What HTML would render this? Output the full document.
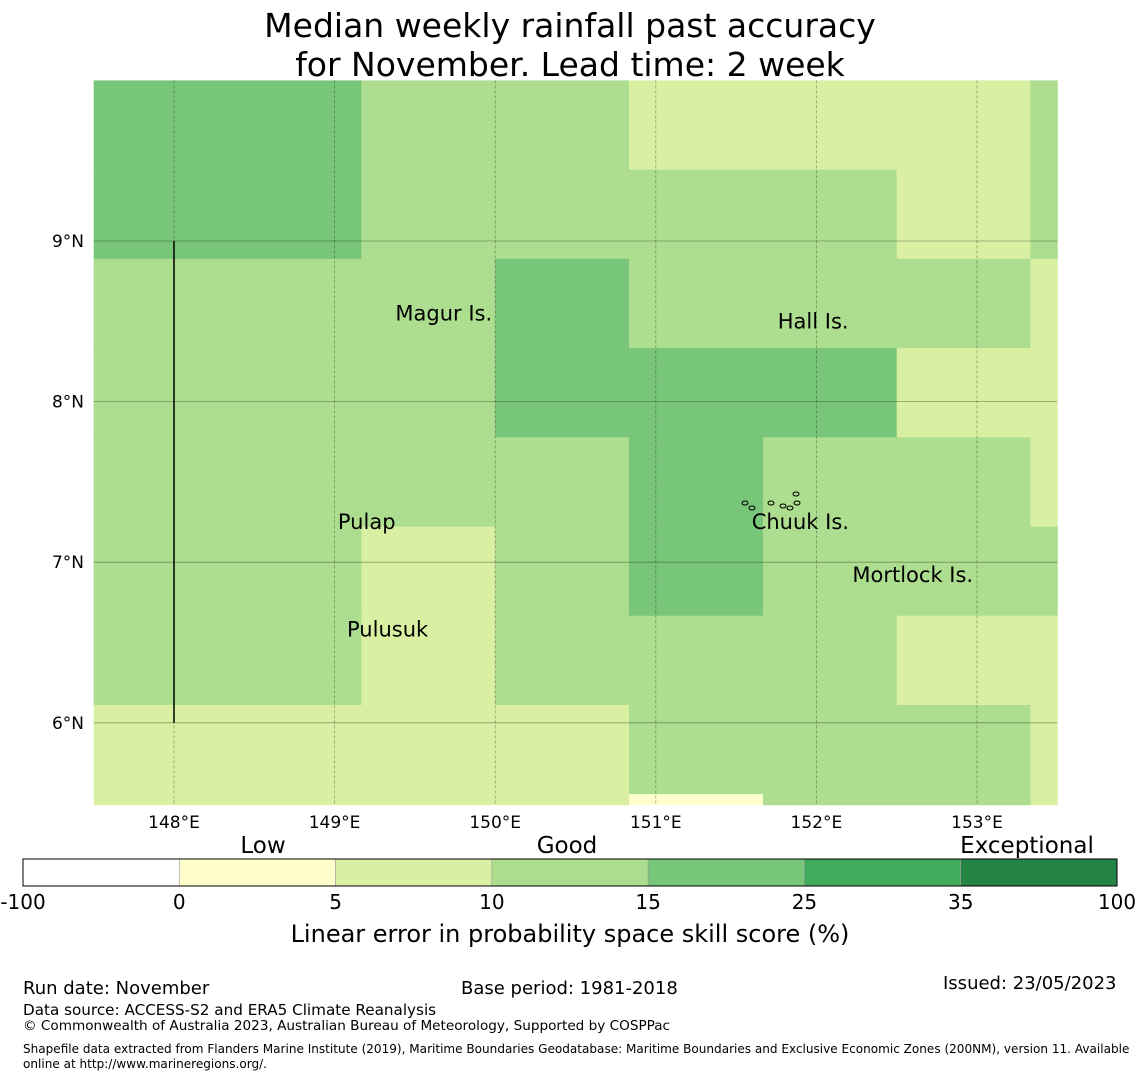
<!DOCTYPE html>
<html><head><meta charset="utf-8"><style>
body{margin:0;background:#fff;font-family:"DejaVu Sans","Liberation Sans",sans-serif;}
#wrap{position:relative;width:1140px;height:1080px;overflow:hidden;}
.t{position:absolute;white-space:nowrap;color:#000;}
</style></head><body>
<div id="wrap">
<div class="t" style="left:0;width:1140px;text-align:center;top:6px;font-size:33px;line-height:39px;">Median weekly rainfall past accuracy<br>for November. Lead time: 2 week</div>
<svg id="map" width="1140" height="1080" style="position:absolute;left:0;top:0"></svg>
<div class="t" style="left:23px;top:978px;font-size:18px">Run date: November</div>
<div class="t" style="left:461px;top:978px;font-size:18px">Base period: 1981-2018</div>
<div class="t" style="left:943px;top:973px;font-size:18px">Issued: 23/05/2023</div>
<div class="t" style="left:23px;top:1001px;font-size:15.2px">Data source: ACCESS-S2 and ERA5 Climate Reanalysis</div>
<div class="t" style="left:23px;top:1018px;font-size:13.6px">© Commonwealth of Australia 2023, Australian Bureau of Meteorology, Supported by COSPPac</div>
<div class="t" style="left:23px;top:1042px;font-size:12.05px;line-height:15px">Shapefile data extracted from Flanders Marine Institute (2019), Maritime Boundaries Geodatabase: Maritime Boundaries and Exclusive Economic Zones (200NM), version 11. Available<br>online at http://www.marineregions.org/.</div>
</div>
<script>
const lonEdges=[147.5,148.333,149.167,150.0,150.833,151.667,152.5,153.333,153.5];
const latEdges=[10.0,9.444,8.889,8.333,7.778,7.222,6.667,6.111,5.556,5.49];
const skill=[
[20,20,12,12,7,7,7,12],
[20,20,12,12,12,12,7,12],
[12,12,12,20,12,12,12,7],
[12,12,12,20,20,20,7,7],
[12,12,12,12,20,12,12,7],
[12,12,7,12,20,12,12,12],
[12,12,7,12,12,12,7,7],
[7,7,7,7,12,12,12,7],
[7,7,7,7,2,12,12,7]];
const lonTicks=[148,149,150,151,152,153];
const latTicks=[9,8,7,6];
const cbBounds=["-100","0","5","10","15","25","35","100"];
const cbLevels=[-100,0,5,10,15,25,35,100];
const cbColors=["#ffffff","#ffffcc","#d9f0a3","#addd8e","#78c679","#41ab5d","#238443"];
const places=[["Magur Is.",149.68,8.55],["Hall Is.",151.98,8.5],["Pulap",149.2,7.25],["Chuuk Is.",151.9,7.25],["Mortlock Is.",152.6,6.92],["Pulusuk",149.33,6.58]];
const NS="http://www.w3.org/2000/svg";
const svg=document.getElementById('map');
const X=l=>174+(l-148)*160.6, Y=t=>241+(9-t)*160.6;
function mk(tag,at){const e=document.createElementNS(NS,tag);for(const k in at)e.setAttribute(k,at[k]);svg.appendChild(e);return e;}
function col(v){for(let i=0;i<cbLevels.length-1;i++)if(v<cbLevels[i+1])return cbColors[i];return cbColors[6];}
skill.forEach((row,r)=>row.forEach((v,c)=>{
 const x0=X(lonEdges[c]),x1=X(lonEdges[c+1]),y0=Y(latEdges[r]),y1=Y(latEdges[r+1]);
 const e=mk('rect',{x:x0,y:y0,width:x1-x0+0.5,height:y1-y0+0.5,fill:col(v)});
 
 
}));
lonTicks.forEach(l=>{
 const g=mk('line',{x1:X(l),x2:X(l),y1:Y(10),y2:Y(5.49),stroke:'#000','stroke-opacity':0.35,'stroke-width':0.8,'stroke-dasharray':'3,2'});
 
 
 const t=mk('text',{x:X(l),y:828,'font-size':17,'text-anchor':'middle'});t.textContent=l+'°E';
 
 
});
latTicks.forEach(l=>{
 const g=mk('line',{x1:X(147.5),x2:X(153.5),y1:Y(l),y2:Y(l),stroke:'#000','stroke-opacity':0.35,'stroke-width':0.8});
 
 
 const t=mk('text',{x:84,y:Y(l)+6,'font-size':17,'text-anchor':'end'});t.textContent=l+'°N';
 
 
});
const bl=mk('line',{x1:X(148),x2:X(148),y1:Y(9),y2:Y(6),stroke:'#000','stroke-width':1.5});


places.forEach(p=>{
 const t=mk('text',{x:X(p[1]),y:Y(p[2])+7,'font-size':21,'text-anchor':'middle'});t.textContent=p[0];
 
 
});
[[745,503],[752,508],[771,503],[783,506],[790,508],[796,494],[797,503]].forEach(p=>{
 const e=mk('ellipse',{cx:p[0],cy:p[1],rx:3,ry:2,fill:'none',stroke:'#000','stroke-width':1});
 
 
});
const cbx=23,cbw=1094,cby=859,cbh=27,n=cbColors.length;
cbColors.forEach((c,i)=>{
 const e=mk('rect',{x:cbx+i*cbw/n,y:cby,width:cbw/n,height:cbh,fill:c,stroke:'#999','stroke-width':0.6});
 
 
});
mk('rect',{x:cbx,y:cby,width:cbw,height:cbh,fill:'none',stroke:'#000','stroke-width':1});
cbBounds.forEach((s,i)=>{
 const t=mk('text',{x:cbx+i*cbw/n,y:909,'font-size':20,'text-anchor':'middle'});t.textContent=s;
 
 
});
[["Low",263],["Good",567],["Exceptional",1027]].forEach(p=>{
 const t=mk('text',{x:p[1],y:853,'font-size':23,'text-anchor':'middle'});t.textContent=p[0];
 
 
});
const ct=mk('text',{x:570,y:942,'font-size':24,'text-anchor':'middle'});ct.textContent='Linear error in probability space skill score (%)';


</script>
</body></html>
